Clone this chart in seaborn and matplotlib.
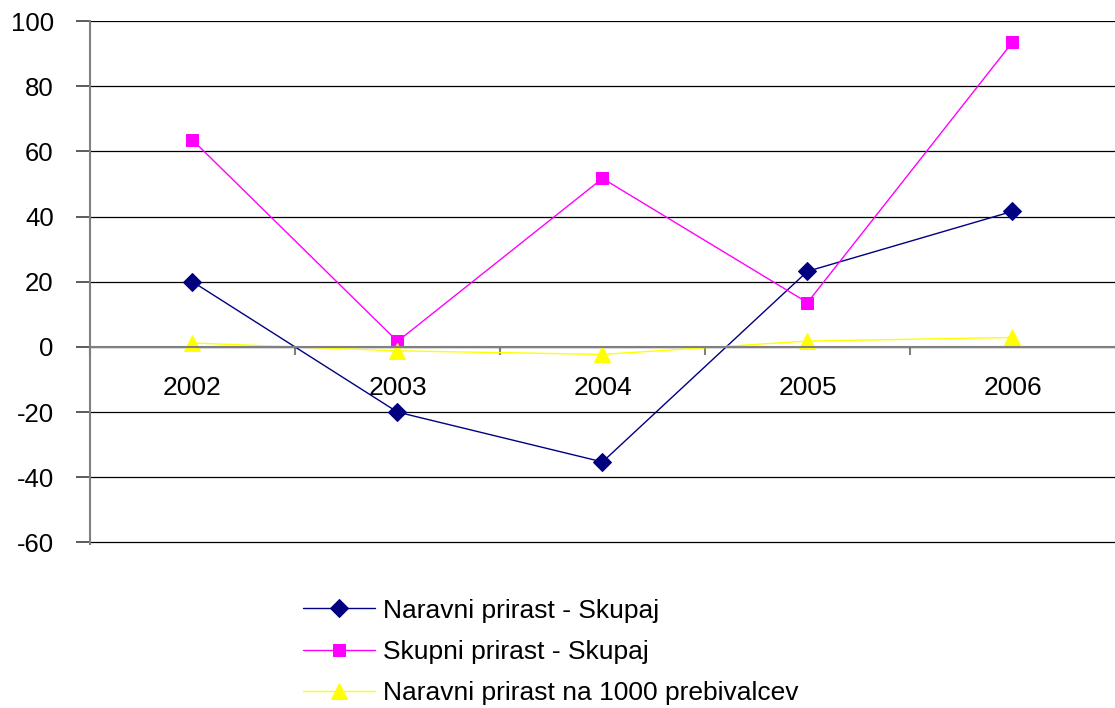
import matplotlib
matplotlib.use("Agg")
import matplotlib.pyplot as plt
import seaborn as sns
import pandas as pd
import numpy as np

years = ["2002", "2003", "2004", "2005", "2006"]
naravni = [20, -20, -35.3, 23.2, 41.6]
skupni = [63.5, 1.7, 51.7, 13.6, 93.5]
na_1000 = [1.2, -1.2, -2.3, 1.8, 2.9]
labels = ["Naravni prirast - Skupaj", "Skupni prirast - Skupaj",
          "Naravni prirast na 1000 prebivalcev"]

sns.set_theme(style="white")
plt.rcParams['font.family'] = ['Liberation Sans', 'DejaVu Sans']
plt.rcParams['axes.unicode_minus'] = False
plt.rcParams['text.color'] = 'black'
plt.rcParams['xtick.color'] = 'black'
plt.rcParams['ytick.color'] = 'black'
plt.rcParams['ytick.left'] = True
plt.rcParams['xtick.bottom'] = True

fig = plt.figure(figsize=(11.15, 7.08), dpi=100)
ax = fig.add_axes([0.0807, 0.232, 0.9193, 0.7383])

pos = np.arange(len(years))
series = [
    (naravni, labels[0], "#000080", "D", 9),
    (skupni, labels[1], "#FF00FF", "s", 9),
    (na_1000, labels[2], "#FFFF00", "^", 11),
]
for vals, lab, col, mk, ms in series:
    df = pd.DataFrame({"x": pos, "y": vals})
    sns.lineplot(data=df, x="x", y="y", ax=ax, color=col, marker=mk,
                 markersize=ms, markeredgecolor=col, linewidth=1.0, label=lab)

ax.set_xlim(-0.5, len(years) - 0.5)
ax.set_ylim(-60.4, 100)
ax.set_yticks(np.arange(-60, 101, 20))
ax.yaxis.grid(True, color="black", linewidth=0.9)
ax.set_axisbelow(True)
ax.set_xlabel("")
ax.set_ylabel("")

for s in ["top", "right"]:
    ax.spines[s].set_visible(False)
ax.spines["left"].set_color("#808080")
ax.spines["left"].set_linewidth(1.5)
ax.spines["bottom"].set_position(("data", 0))
ax.spines["bottom"].set_color("#808080")
ax.spines["bottom"].set_linewidth(1.5)

ax.set_xticks(np.arange(-0.5, len(years) - 0.5, 1))
ax.set_xticks(pos, minor=True)
ax.set_xticklabels([])
ax.set_xticklabels(years, minor=True)
ax.tick_params(axis="x", which="major", direction="out", length=6, width=1.5,
               color="#808080", bottom=True)
ax.tick_params(axis="x", which="minor", length=0, labelsize=19, pad=21,
               bottom=True, labelcolor="black")
ax.tick_params(axis="y", which="major", direction="out", length=10, width=1.2,
               color="#404040", labelsize=18.5, pad=16, left=True,
               labelcolor="black")

leg = ax.legend(loc="upper left", bbox_to_anchor=(0.260, 0.173),
                bbox_transform=fig.transFigure, frameon=False, fontsize=19,
                handlelength=2.73, handletextpad=0.3, labelspacing=0.65,
                borderpad=0)
for t in leg.get_texts():
    t.set_color("black")

fig.savefig("out.png", dpi=100)
